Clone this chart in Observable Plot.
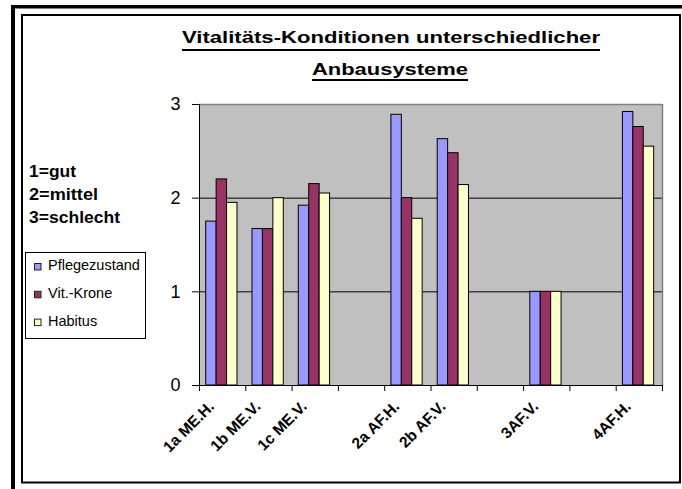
<!DOCTYPE html>
<html>
<head>
<meta charset="utf-8">
<script src="https://cdn.jsdelivr.net/npm/d3@7"></script>
<script src="https://cdn.jsdelivr.net/npm/@observablehq/plot@0.6"></script>
<style>
  html, body { margin: 0; padding: 0; background: #fff; }
  #wrap { position: relative; width: 682px; height: 489px; overflow: hidden; background: #fff; }
  #wrap > svg { position: absolute; left: 0; top: 0; }
  #overlay { pointer-events: none; }
</style>
</head>
<body>
<div id="wrap"></div>
<script>
// ---- data ----
const categories = ["1a ME.H.", "1b ME.V.", "1c ME.V.", "", "2a AF.H.", "2b AF.V.", "", "3AF.V.", "", "4AF.H."];
const seriesNames = ["Pflegezustand", "Vit.-Krone", "Habitus"];
const pflegezustand = [1.75, 1.67, 1.92, null, 2.89, 2.63, null, 1.0, null, 2.92];
const vitKrone      = [2.20, 1.67, 2.15, null, 2.00, 2.48, null, 1.0, null, 2.76];
const habitus       = [1.95, 2.00, 2.05, null, 1.78, 2.14, null, 1.0, null, 2.55];
const yTicks = [0, 1, 2, 3];
const notes = ["1=gut", "2=mittel", "3=schlecht"];
const titleLines = ["Vitalitäts-Konditionen unterschiedlicher", "Anbausysteme"];
const seriesColors = ["#9999FF", "#993366", "#FFFFCC"];

const seriesValues = [pflegezustand, vitKrone, habitus];
const rows = [];
seriesValues.forEach((vals, s) => vals.forEach((v, i) => {
  if (v != null) rows.push({slot: i, s, series: seriesNames[s], value: v});
}));
const slots = d3.range(categories.length);
const groupOffset = 0.145, barW = 0.225;
const FONT = "'Liberation Sans', Arial, sans-serif";

const chart = Plot.plot({
  width: 682,
  height: 489,
  marginTop: 104,
  marginRight: 20,
  marginBottom: 104,
  marginLeft: 199,
  style: {fontFamily: FONT, color: "black", background: "transparent", overflow: "visible"},
  x: {type: "linear", domain: [0, categories.length], label: null},
  y: {domain: [0, 3], label: null},
  color: {domain: seriesNames, range: seriesColors},
  marks: [
    Plot.frame({fill: "#C0C0C0", stroke: null}),
    Plot.ruleY([1, 2], {stroke: "black"}),
    Plot.ruleY([3], {stroke: "#808080", strokeWidth: 1.5}),
    Plot.ruleX([categories.length], {stroke: "#808080", strokeWidth: 1.5}),
    Plot.rect(rows, {
      x1: d => d.slot + groupOffset + d.s * barW,
      x2: d => d.slot + groupOffset + (d.s + 1) * barW,
      y1: () => 0,
      y2: "value",
      fill: "series",
      stroke: "black",
      strokeWidth: 1
    }),
    Plot.ruleX([0], {stroke: "black"}),
    Plot.ruleY([0], {stroke: "black"}),
    Plot.axisY(yTicks, {tickSize: 7, tickPadding: 12, fontSize: 18, tickFormat: "d", label: null}),
    Plot.axisX(slots.concat([categories.length]), {tickSize: 6, tickFormat: () => "", label: null}),
    Plot.text(slots.filter(i => categories[i] !== ""), {
      x: i => i + 0.5,
      text: i => categories[i],
      frameAnchor: "bottom",
      rotate: -45,
      textAnchor: "end",
      dx: -7.5,
      dy: 22,
      fontSize: 15.5,
      fontWeight: "bold",
      fill: "black"
    })
  ]
});
const wrap = document.getElementById("wrap");
wrap.appendChild(chart);

// ---- overlay: frame borders, title, notes, legend ----
const ov = d3.select(wrap).append("svg")
  .attr("id", "overlay").attr("width", 682).attr("height", 489)
  .style("font-family", FONT);

// thick outer border (top and left)
ov.append("rect").attr("x", 11).attr("y", 5).attr("width", 700).attr("height", 3.5).attr("fill", "black");
ov.append("rect").attr("x", 11).attr("y", 5).attr("width", 4).attr("height", 500).attr("fill", "black");
// inner thin border
ov.append("rect").attr("x", 22).attr("y", 15).attr("width", 658).attr("height", 467.5)
  .attr("fill", "none").attr("stroke", "black").attr("stroke-width", 2);

// title
const titleSpec = [
  {x1: 182, x2: 600, base: 43, ul: 50},
  {x1: 312, x2: 468, base: 75, ul: 80}
];
titleLines.forEach((t, k) => {
  const sp = titleSpec[k];
  ov.append("text").text(t)
    .attr("x", (sp.x1 + sp.x2) / 2).attr("y", sp.base)
    .attr("text-anchor", "middle")
    .attr("textLength", sp.x2 - sp.x1).attr("lengthAdjust", "spacingAndGlyphs")
    .attr("font-size", 16.5).attr("font-weight", "bold").attr("fill", "black");
  ov.append("rect").attr("x", sp.x1).attr("y", sp.ul - 1).attr("width", sp.x2 - sp.x1).attr("height", 2).attr("fill", "black");
});

// notes
const noteW = [47, 69, 91];
notes.forEach((t, k) => {
  ov.append("text").text(t)
    .attr("x", 29).attr("y", 177 + k * 22.8)
    .attr("textLength", noteW[k]).attr("lengthAdjust", "spacingAndGlyphs")
    .attr("font-size", 16.5).attr("font-weight", "bold").attr("fill", "black");
});

// legend
ov.append("rect").attr("x", 25.5).attr("y", 252.5).attr("width", 120).attr("height", 86)
  .attr("fill", "white").attr("stroke", "black").attr("stroke-width", 1);
seriesNames.forEach((name, k) => {
  const base = 270 + k * 27.8;
  ov.append("rect").attr("x", 34.5).attr("y", base - 6.5).attr("width", 6.5).attr("height", 6.5)
    .attr("fill", seriesColors[k]).attr("stroke", "#222").attr("stroke-width", 1);
  ov.append("text").text(name).attr("x", 48).attr("y", base)
    .attr("font-size", 14.5).attr("fill", "black");
});
</script>
</body>
</html>
